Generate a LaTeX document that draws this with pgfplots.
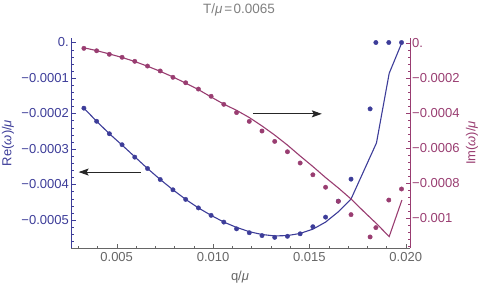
\documentclass[border=0pt]{standalone}
\usepackage{fontspec}
\setmainfont{Liberation Sans}
\usepackage{pgfplots}
\pgfplotsset{compat=1.18}
\usetikzlibrary{arrows.meta}
\definecolor{mblue}{rgb}{0.24,0.24,0.6}
\definecolor{mpurp}{rgb}{0.6,0.24,0.4428}
\definecolor{mgray}{gray}{0.4}
\newcommand{\fs}{\fontsize{13}{15}\selectfont}

\pgfplotstableread{
q re
0.0033 -0.000185
0.00396 -0.000222
0.00462 -0.000257
0.00528 -0.000288
0.00594 -0.000323
0.0066 -0.000355
0.00726 -0.000386
0.00792 -0.000415
0.00858 -0.000442
0.00924 -0.000466
0.0099 -0.000487
0.01056 -0.000506
0.01122 -0.000525
0.01188 -0.000536
0.01254 -0.000544
0.0132 -0.000549
0.01386 -0.000546
0.01452 -0.000539
0.01518 -0.000519
0.01584 -0.000492
0.0165 -0.000447
0.01716 -0.000385
0.01815 -0.000187
0.01845 0
0.01912 0
0.01978 0
}\repoints

\pgfplotstableread{
q re
0.0033 -0.000185
0.00396 -0.000222
0.00462 -0.000257
0.00528 -0.000289
0.00594 -0.000322
0.0066 -0.000355
0.00726 -0.000386
0.00792 -0.000415
0.00858 -0.000442
0.00924 -0.000466
0.0099 -0.000487
0.01056 -0.000506
0.01122 -0.000521
0.01188 -0.000533
0.01254 -0.000541
0.0132 -0.000545
0.01386 -0.000544
0.01452 -0.000538
0.01518 -0.000526
0.01584 -0.000506
0.0165 -0.000477
0.01716 -0.000441
0.01782 -0.000362
0.01848 -0.000283
0.01914 -0.0000868
0.0198 0
}\reline

\pgfplotstableread{
q im
0.0033 -0.000032
0.00396 -0.000046
0.00462 -0.000066
0.00528 -0.000083
0.00594 -0.000106
0.0066 -0.000133
0.00726 -0.000161
0.00792 -0.000197
0.00858 -0.000228
0.00924 -0.000264
0.0099 -0.000305
0.01056 -0.000351
0.01122 -0.000398
0.01188 -0.000448
0.01254 -0.000503
0.0132 -0.000562
0.01386 -0.000621
0.01452 -0.000685
0.01518 -0.000752
0.01584 -0.000823
0.0165 -0.000903
0.01716 -0.000979
0.01815 -0.001106
0.01845 -0.001053
0.01912 -0.000896
0.01978 -0.000833
}\impoints

\pgfplotstableread{
q im
0.0033 -0.000029
0.00396 -0.000045
0.00462 -0.000064
0.00528 -0.000084
0.00594 -0.000107
0.0066 -0.000134
0.00726 -0.000163
0.00792 -0.000195
0.00858 -0.000230
0.00924 -0.000267
0.0099 -0.000309
0.01056 -0.000350
0.01122 -0.000385
0.01188 -0.000426
0.01254 -0.000474
0.0132 -0.000526
0.01386 -0.000583
0.01452 -0.000645
0.01518 -0.000705
0.01584 -0.000768
0.0165 -0.000827
0.01716 -0.000890
0.01782 -0.000961
0.01848 -0.001030
0.01914 -0.001104
0.0198 -0.000896
}\imline

\begin{document}
\begin{tikzpicture}[x=1pt,y=1pt]
\useasboundingbox (0,0) rectangle (482,287);
\node[gray, font=\fontsize{13.5}{16}\selectfont] at (239,277) {T/\textit{μ}\hspace{0.15em}=\hspace{0.1em}0.0065};
\begin{axis}[
  at={(71pt,39pt)}, anchor=south west,
  scale only axis, width=339pt, height=210pt,
  xmin=0.00263, xmax=0.02022,
  ymin=-0.000579, ymax=0.0000127,
  axis x line*=bottom, axis y line*=left,
  tick align=inside,
  scaled ticks=false,
  major tick length=4.5pt, minor tick length=2.5pt,
  xtick={0.005,0.01,0.015,0.02},
  xticklabels={0.005,0.010,0.015,0.020},
  minor xtick={0.003,0.004,0.006,0.007,0.008,0.009,0.011,0.012,0.013,0.014,0.016,0.017,0.018,0.019},
  ytick={-0.0005,-0.0004,-0.0003,-0.0002,-0.0001,0},
  yticklabels={−0.0005,−0.0004,−0.0003,−0.0002,−0.0001,0.},
  minor ytick={-0.00058,-0.00056,-0.00054,-0.00052,-0.00048,-0.00046,-0.00044,-0.00042,-0.00038,-0.00036,-0.00034,-0.00032,-0.00028,-0.00026,-0.00024,-0.00022,-0.00018,-0.00016,-0.00014,-0.00012,-0.00008,-0.00006,-0.00004,-0.00002},
  x axis line style={mgray, -},
  y axis line style={mblue, -},
  xtick style={mgray},
  ytick style={mblue},
  x tick label style={mgray, font=\fs, yshift=-1pt},
  y tick label style={mblue, font=\fs, inner sep=2pt},
  xlabel={q/\textit{μ}},
  xlabel style={mgray, font=\fs, at={(axis description cs:0.4985,-0.138)}, anchor=center},
  ylabel={Re(\textit{ω})/\textit{μ}},
  ylabel style={mblue, font=\fs, at={(axis description cs:-0.186,0.5)}, anchor=center},
]
\addplot[mblue, line width=1.1pt, no marks] table[x=q,y=re] {\reline};
\addplot[only marks, mark=*, mark size=2.2pt, mblue, mark options={draw=none, fill=mblue}] table[x=q,y=re] {\repoints};
\draw[-{Stealth[length=10pt,width=7pt,inset=2pt]}, line width=0.9pt, black!85] (axis cs:0.006246,-0.000365) -- (axis cs:0.003027,-0.000365);
\draw[-{Stealth[length=10pt,width=7pt,inset=2pt]}, line width=0.9pt, black!85] (axis cs:0.012061,-0.000201) -- (axis cs:0.015644,-0.000201);
\end{axis}
\begin{axis}[
  at={(71pt,39pt)}, anchor=south west,
  scale only axis, width=339pt, height=210pt,
  xmin=0.00263, xmax=0.02022,
  ymin=-0.001169, ymax=0.0000268,
  axis x line=none, axis y line*=right,
  tick align=inside,
  scaled ticks=false,
  major tick length=4.5pt, minor tick length=2.5pt,
  ytick={-0.001,-0.0008,-0.0006,-0.0004,-0.0002,0},
  yticklabels={−0.001,−0.0008,−0.0006,−0.0004,−0.0002,0.},
  minor ytick={-0.00116,-0.00112,-0.00108,-0.00104,-0.00096,-0.00092,-0.00088,-0.00084,-0.00076,-0.00072,-0.00068,-0.00064,-0.00056,-0.00052,-0.00048,-0.00044,-0.00036,-0.00032,-0.00028,-0.00024,-0.00016,-0.00012,-0.00008,-0.00004},
  y axis line style={mpurp, -},
  ytick style={mpurp},
  y tick label style={mpurp, font=\fs, inner sep=2pt},
  ylabel={Im(\textit{ω})/\textit{μ}},
  ylabel style={mpurp, font=\fs, at={(axis description cs:1.183,0.5)}, anchor=center},
]
\addplot[mpurp, line width=1.1pt, no marks] table[x=q,y=im] {\imline};
\addplot[only marks, mark=*, mark size=2.2pt, mpurp, mark options={draw=none, fill=mpurp}] table[x=q,y=im] {\impoints};
\end{axis}
\end{tikzpicture}
\end{document}
